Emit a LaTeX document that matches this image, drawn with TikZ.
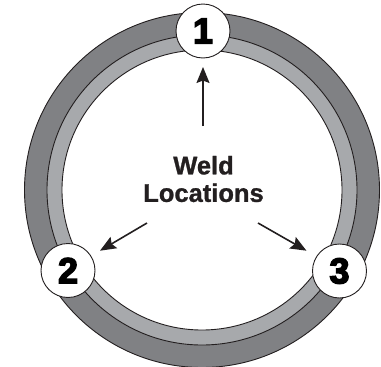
\documentclass[tikz,border=0pt]{standalone}
\usepackage{fontspec}
\setmainfont{Liberation Sans}
\newfontfamily\heavyfont[FakeBold=4]{Liberation Sans Bold}
\newfontfamily\capfont[FakeBold=1]{Liberation Sans Bold}
\usetikzlibrary{arrows.meta}
\definecolor{ringdark}{HTML}{808184}
\definecolor{ringlight}{HTML}{A7A9AC}
\definecolor{inkline}{HTML}{231F20}
\tikzset{
  x=1pt,y=-1pt,
  ringedge/.style={draw=inkline,line width=0.9pt},
  weld/.style={circle,draw=inkline,line width=0.9pt,fill=white,minimum size=54pt,inner sep=0pt,font=\heavyfont\fontsize{36}{36}\selectfont,text=black},
  pointer/.style={draw=inkline,line width=1.6pt,-{Stealth[length=16pt,width=13pt,inset=2.5pt]}},
  caption/.style={align=center,font=\capfont\fontsize{25.5}{27.5}\selectfont,text=inkline,inner sep=0pt}
}
\begin{document}
\begin{tikzpicture}
\useasboundingbox (0,0) rectangle (381,367);
\fill[white] (0,0) rectangle (381,367);
\draw[ringedge,fill=ringdark] (202,190) circle[radius=177.5];
\draw[ringedge,fill=ringlight] (202,190) circle[radius=155];
\draw[ringedge,fill=white] (202,190) circle[radius=140];
\node[weld] (w1) at (203,31) {1};
\node[weld] (w2) at (68,270.5) {2};
\node[weld] (w3) at (339.5,271) {3};
\node[caption] (lab) at (203.5,179) {Weld\\Locations};
\coordinate (s1) at (203,126);
\coordinate (s2) at (147,223);
\coordinate (s3) at (258,223);
\draw[pointer] (s1) -- (w1.south |- 0,67);
\draw[pointer] (s2) -- (100,250.7);
\draw[pointer] (s3) -- (306.5,250.7);
\end{tikzpicture}
\end{document}
